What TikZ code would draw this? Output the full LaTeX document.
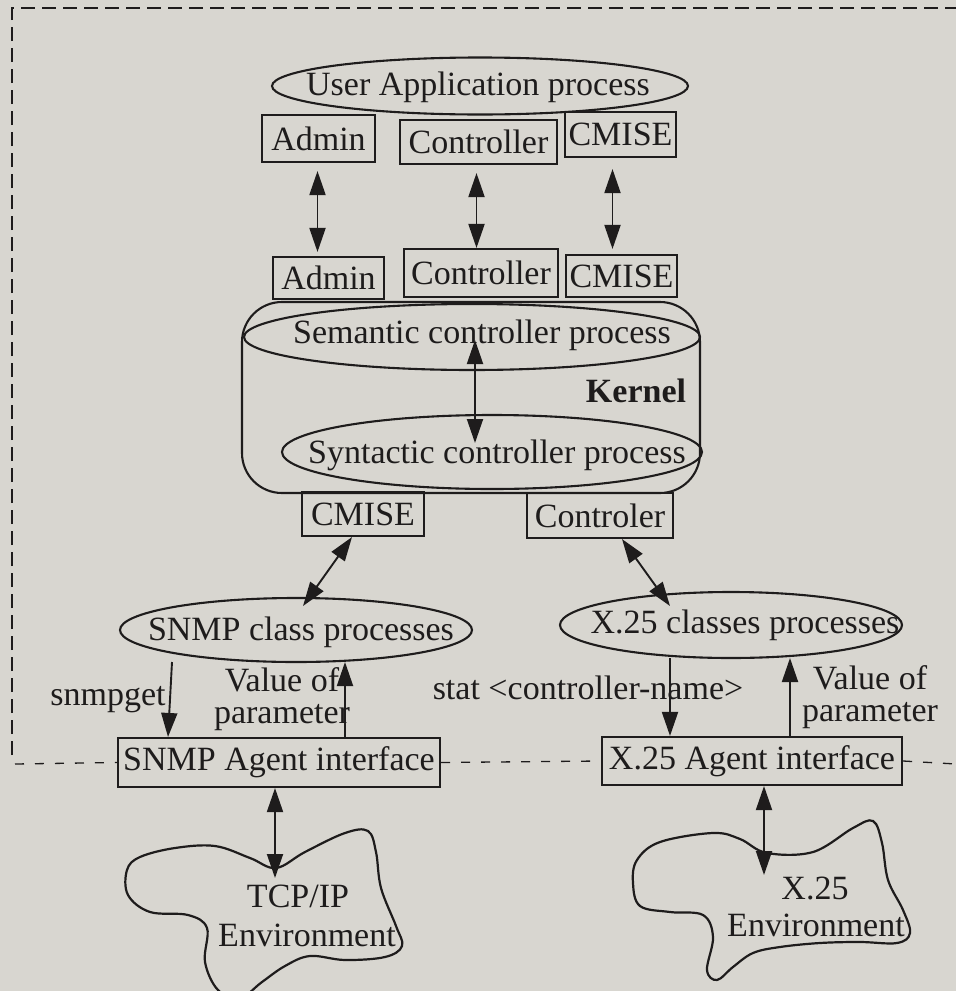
\documentclass[tikz,border=0pt]{standalone}
\usepackage{fontspec}
\setmainfont{Liberation Serif}
\usetikzlibrary{shapes.geometric,arrows.meta,calc}
\definecolor{paper}{RGB}{216,214,208}
\definecolor{ink}{RGB}{30,28,28}
\begin{document}
\begin{tikzpicture}[x=1pt,y=-1pt,
  every node/.style={font=\fontsize{34}{32}\selectfont, text=ink, inner sep=0pt},
  ln/.style={draw=ink, line width=2.1pt},
  boxn/.style={ln, rectangle},
  elln/.style={ln, ellipse},
  >={Triangle[length=24pt,width=16pt]},
  dbl/.style={ln, line width=1.9pt, <->},
  one/.style={ln, line width=1.9pt, ->},
  borderln/.style={draw=ink, line width=1.6pt, dash pattern=on 14pt off 7pt},
  dotln/.style={draw=ink, line width=1.3pt, dash pattern=on 9pt off 11pt},
  cloudln/.style={ln, line width=2.2pt}
]
\useasboundingbox (0,0) rectangle (956,991);
\fill[paper] (0,0) rectangle (956,991);

% frame lines
\coordinate (bTL) at (12,8);
\coordinate (bTR) at (956,8);
\coordinate (bBL) at (12,755);
\draw[borderln] (bBL) -- (bTL) -- (bTR);

% user application
\node[elln, minimum width=416, minimum height=57] (ua) at (480,86) {};
\node (uat) at (478,87) {User Application process};
\node[boxn, minimum width=113, minimum height=47] (adT) at (318.5,138.5) {Admin};
\node[boxn, minimum width=157, minimum height=44] (coT) at (478.5,142) {Controller};
\node[boxn, minimum width=111, minimum height=45] (cmT) at (620.5,134.5) {CMISE};

% kernel top boxes
\node[boxn, minimum width=111, minimum height=42] (adB) at (328.5,278) {Admin};
\node[boxn, minimum width=154, minimum height=48] (coB) at (481,273) {Controller};
\node[boxn, minimum width=111, minimum height=42] (cmB) at (621.5,276) {CMISE};

% kernel
\node[boxn, rounded corners=40pt, minimum width=458, minimum height=191] (kern) at (471,397.5) {};
\node[elln, minimum width=456, minimum height=66] (sem) at (472,337) {};
\node (semt) at (482,335) {Semantic controller process};
\node[font=\fontsize{34}{32}\selectfont\bfseries] (kl) at (636,391) {Kernel};
\node[elln, minimum width=420, minimum height=74] (syn) at (492,452) {};
\node (synt) at (497,455) {Syntactic controller process};

% kernel bottom boxes
\node[boxn, minimum width=122, minimum height=44] (cmL) at (363,514) {CMISE};
\node[boxn, minimum width=146, minimum height=45] (ctL) at (600,515.5) {Controler};

% class processes
\node[elln, minimum width=352, minimum height=64] (snmp) at (296,630) {};
\node (snmpt) at (301,632) {SNMP class processes};
\node[elln, minimum width=342, minimum height=66] (x25) at (731,625) {};
\node (x25t) at (745,625) {X.25 classes processes};

% agent interfaces
\node[boxn, minimum width=322, minimum height=49] (sbox) at (279,762.5) {SNMP Agent interface};
\node[boxn, minimum width=300, minimum height=48] (xbox) at (752,761) {X.25 Agent interface};

% labels
\node (sg) at (108,700) {snmpget};
\node[align=center] (v1) at (282,699) {Value of\\parameter};
\node (stat) at (588,688) {stat \textless controller-name\textgreater};
\node[align=center] (v2) at (870,697) {Value of\\parameter};

% dotted line
\coordinate (dL) at (15,764);
\coordinate (dR) at (956,764);
\draw[dotln] (dL) -- (sbox.west);
\draw[dotln] (sbox.east) -- (xbox.west);
\draw[dotln] (xbox.east) -- (dR);

% clouds
\draw[cloudln] plot[smooth cycle, tension=0.6] coordinates {
  (140,857) (175,848) (215,846) (250,858) (276,868) (305,852) (345,833)
  (368,831) (376,852) (381,888) (396,926) (402,946) (385,957) (345,960)
  (310,956) (285,966) (262,982) (240,998) (218,990) (205,962) (207,928)
  (188,915) (150,912) (128,895) (127,870)};
\draw[cloudln] plot[smooth cycle, tension=0.6] coordinates {
  (637,860) (660,842) (713,833) (740,839) (767,853) (813,852) (853,828)
  (873,821) (882,843) (888,880) (903,910) (910,933) (897,943) (860,942)
  (820,943) (780,947) (753,953) (733,967) (717,980) (707,970) (713,937)
  (703,915) (670,912) (640,906) (633,883)};
\coordinate (tcpin) at (275,878);
\coordinate (xin) at (764,875);
\node (tcp1) at (298,896) {TCP/IP};
\node (tcp2) at (307,935) {Environment};
\node (xc1) at (815,888) {X.25};
\node (xc2) at (816,925) {Environment};

% arrows
\draw[dbl, shorten <=8pt, shorten >=4pt] ($(adT.south)+(-1,0)$) -- ($(adT.south |- adB.north)+(-1,0)$);
\draw[dbl, shorten <=8pt] ($(coT.south)+(-2,0)$) -- ($(coT.south |- coB.north)+(-2,0)$);
\draw[dbl, shorten <=11pt, shorten >=5pt] ($(cmT.south)+(-8,0)$) -- ($(cmT.south |- cmB.north)+(-8,0)$);
\draw[dbl] ($(sem.center)+(3,3)$) -- ($(syn.center)+(-17,-9)$);
\draw[dbl] ($(cmL.south)+(-11,0)$) -- ($(snmp.center)+(7,-24)$);
\draw[dbl] ($(ctL.south)+(22,0)$) -- ($(x25.center)+(-61,-19)$);
\draw[one] ($(snmp.center)+(-124,32)$) -- ($(sbox.north)+(-111,0)$);
\draw[one] ($(sbox.north)+(66,0)$) -- ($(snmp.center)+(49,32)$);
\draw[one] ($(x25.center)+(-61,33)$) -- ($(xbox.north)+(-82,0)$);
\draw[one] ($(xbox.north)+(38,0)$) -- ($(x25.center)+(59,33)$);
\draw[dbl] ($(sbox.south)+(-4,0)$) -- (tcpin);
\draw[dbl] ($(xbox.south)+(12,0)$) -- (xin);
\end{tikzpicture}
\end{document}
